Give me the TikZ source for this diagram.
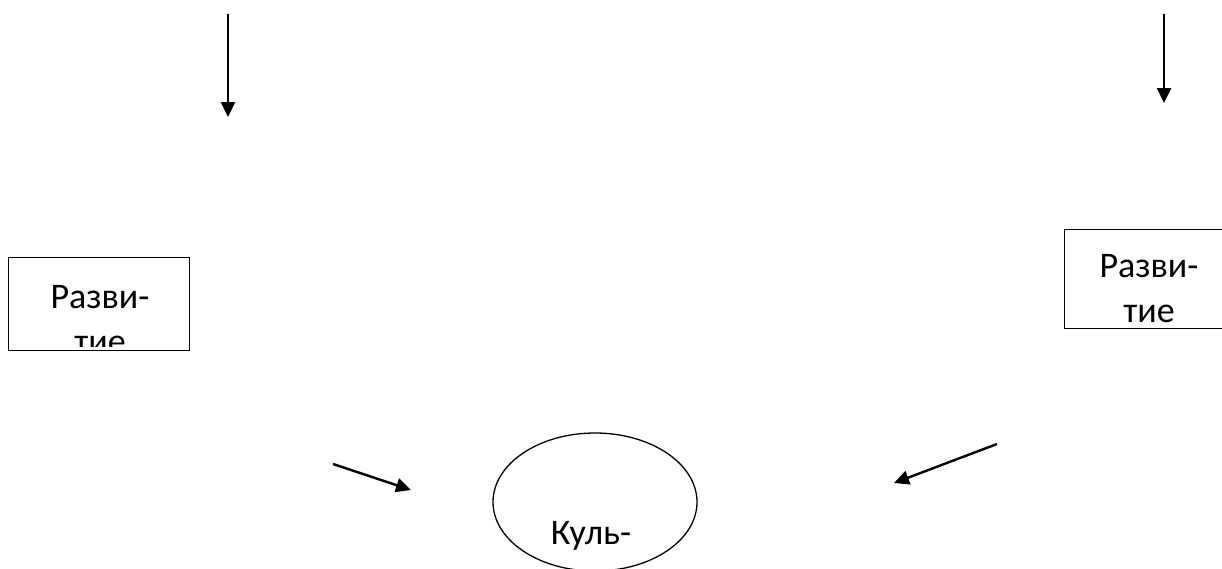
\documentclass[tikz,border=0pt]{standalone}
\usepackage{fontspec}
\setmainfont{Carlito}
\usetikzlibrary{arrows.meta,shapes.geometric}

\begin{document}
\begin{tikzpicture}[x=1pt, y=-1pt,
  box/.style = {draw, line width=1.3pt, inner sep=0pt, anchor=north west},
  oval/.style = {ellipse, draw, line width=1.3pt, inner sep=0pt},
  word/.style = {font=\fontsize{36}{45}\selectfont, align=center, inner sep=0pt},
  arr/.style = {line width=2.4pt, -{Triangle[length=15pt,width=14pt]}},
  ]
  \useasboundingbox (0,0) rectangle (1222,568);
  \clip (0,0) rectangle (1222,568);

  % boxes
  \node[box, minimum width=181pt, minimum height=93pt] (devL) at (8,257) {};
  \node[box, minimum width=170pt, minimum height=99pt] (devR) at (1064,229) {};
  \begin{scope}
    \clip (devL.north west) rectangle ([yshift=5pt]devL.south east);
    \node[word] (devLtxt) at (100,320) {Разви-\\тие};
  \end{scope}
  \node[word] (devRtxt) at (1149,289) {Разви-\\тие};

  % ellipse
  \node[oval, minimum width=204pt, minimum height=138pt] (cult) at (595,502) {};
  \node[word, anchor=base] (culttxt) at (591,544) {Куль-};

  % arrows
  \coordinate (topL) at (228,14);
  \coordinate (topLend) at (228,117);
  \coordinate (topR) at (1164,14);
  \coordinate (topRend) at (1164,103);
  \coordinate (midL) at (333,464);
  \coordinate (midLend) at (411,490);
  \coordinate (midR) at (997,444);
  \coordinate (midRend) at (894,483);
  \draw[arr] (topL) -- (topLend);
  \draw[arr] (topR) -- (topRend);
  \draw[arr] (midL) -- (midLend);
  \draw[arr] (midR) -- (midRend);
\end{tikzpicture}
\end{document}
